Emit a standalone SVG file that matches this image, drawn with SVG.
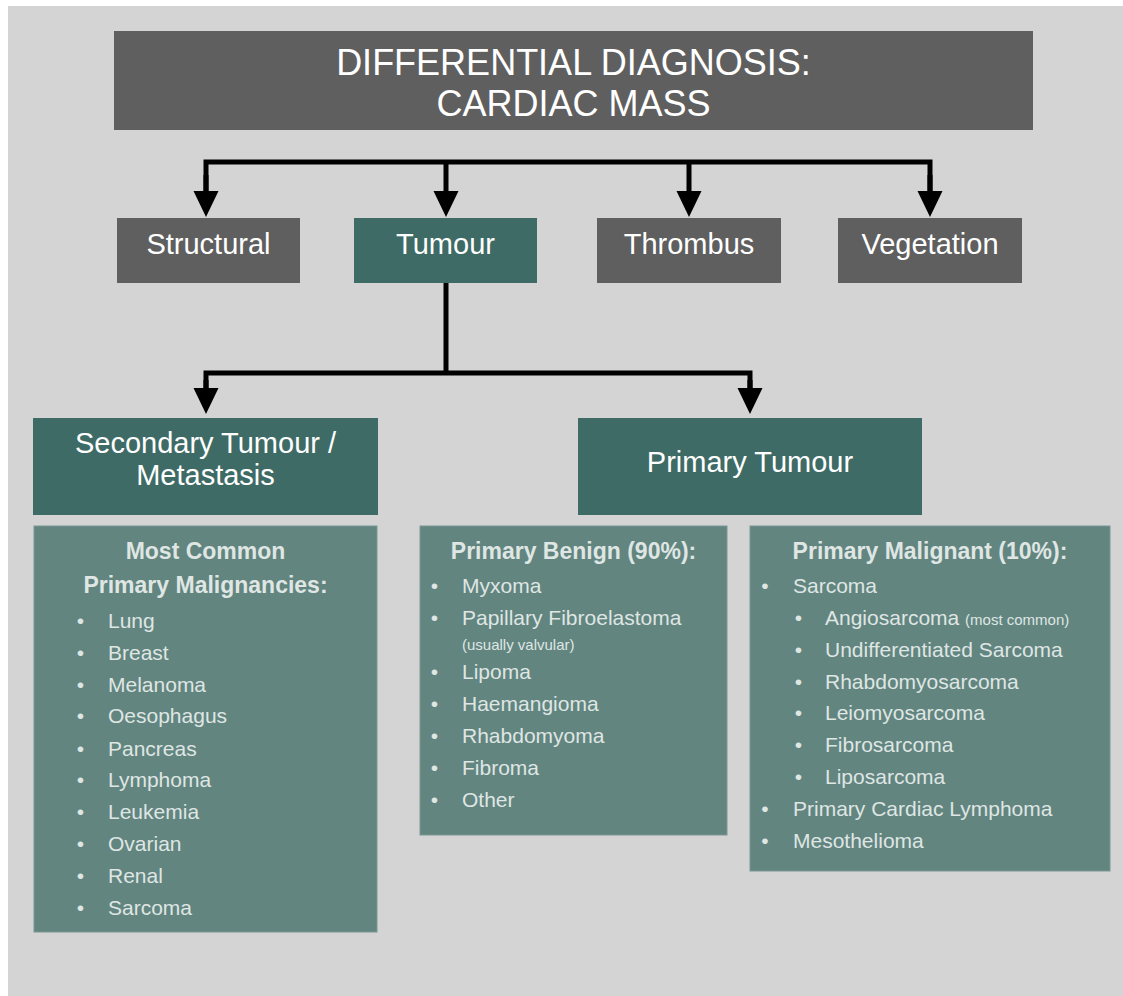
<svg xmlns="http://www.w3.org/2000/svg" width="1123" height="996" viewBox="0 0 1123 996">
<defs>
<style>
.dk{fill:#5f5f5f}
.tl{fill:#3e6b65}
.ls{fill:#62857f;stroke:#7a9893;stroke-width:1}
text{font-family:"Liberation Sans",Arial,Helvetica,sans-serif}
.ttl{fill:#ffffff;font-size:36px;text-anchor:middle}
.lbl{fill:#ffffff;font-size:29px;text-anchor:middle}
.hd{fill:#dfe6e4;font-size:23px;font-weight:bold;text-anchor:middle}
.it{fill:#dfe6e4;font-size:21px}
.sm{fill:#dfe6e4;font-size:15px}
.bl{fill:#dfe6e4;font-size:21px;text-anchor:middle}
.cn{fill:none;stroke:#000;stroke-width:5;stroke-linejoin:miter}
</style>
<marker id="ah" markerUnits="userSpaceOnUse" markerWidth="26" markerHeight="26" viewBox="0 0 26 26" refX="0" refY="12.5" orient="auto">
<path d="M0,0 L26,12.5 L0,25 Z" fill="#000"/>
</marker>
</defs>
<rect x="0" y="0" width="1123" height="996" fill="#ffffff"/>
<rect x="8" y="6" width="1115" height="990" fill="#d4d4d4"/>

<g id="connectors">
<path class="cn" d="M206,191 V162 H930 V191"/>
<path class="cn" d="M206,175 V191" marker-end="url(#ah)"/>
<path class="cn" d="M446,162 V191" marker-end="url(#ah)"/>
<path class="cn" d="M689,162 V191" marker-end="url(#ah)"/>
<path class="cn" d="M930,175 V191" marker-end="url(#ah)"/>
<path class="cn" d="M446,283 V373"/>
<path class="cn" d="M206,388 V373 H750 V388"/>
<path class="cn" d="M206,380 V388" marker-end="url(#ah)"/>
<path class="cn" d="M750,380 V388" marker-end="url(#ah)"/>
</g>

<g id="title">
<rect class="dk" x="114" y="31" width="919" height="99"/>
<text class="ttl" x="573.5" y="75">DIFFERENTIAL DIAGNOSIS:</text>
<text class="ttl" x="573.5" y="116">CARDIAC MASS</text>
</g>

<g id="structural">
<rect class="dk" x="117" y="218" width="183" height="65"/>
<text class="lbl" x="208.5" y="254">Structural</text>
</g>
<g id="tumour">
<rect class="tl" x="354" y="218" width="183" height="65"/>
<text class="lbl" x="445.5" y="254">Tumour</text>
</g>
<g id="thrombus">
<rect class="dk" x="597" y="218" width="184" height="65"/>
<text class="lbl" x="689" y="254">Thrombus</text>
</g>
<g id="vegetation">
<rect class="dk" x="838" y="218" width="184" height="65"/>
<text class="lbl" x="930" y="254">Vegetation</text>
</g>

<g id="secondary">
<rect class="tl" x="33" y="418" width="345" height="97"/>
<text class="lbl" x="205.5" y="453">Secondary Tumour /</text>
<text class="lbl" x="205.5" y="485">Metastasis</text>
</g>
<g id="primary">
<rect class="tl" x="578" y="418" width="344" height="97"/>
<text class="lbl" x="750" y="472">Primary Tumour</text>
</g>

<g id="secondary-list">
<rect class="ls" x="34" y="526" width="343" height="406"/>
<text class="hd" x="205.5" y="559">Most Common</text>
<text class="hd" x="205.5" y="593">Primary Malignancies:</text>
<text class="bl" x="80.5" y="628">•</text><text class="it" x="108" y="628">Lung</text>
<text class="bl" x="80.5" y="660">•</text><text class="it" x="108" y="660">Breast</text>
<text class="bl" x="80.5" y="692">•</text><text class="it" x="108" y="692">Melanoma</text>
<text class="bl" x="80.5" y="723">•</text><text class="it" x="108" y="723">Oesophagus</text>
<text class="bl" x="80.5" y="756">•</text><text class="it" x="108" y="756">Pancreas</text>
<text class="bl" x="80.5" y="787">•</text><text class="it" x="108" y="787">Lymphoma</text>
<text class="bl" x="80.5" y="819">•</text><text class="it" x="108" y="819">Leukemia</text>
<text class="bl" x="80.5" y="851">•</text><text class="it" x="108" y="851">Ovarian</text>
<text class="bl" x="80.5" y="883">•</text><text class="it" x="108" y="883">Renal</text>
<text class="bl" x="80.5" y="915">•</text><text class="it" x="108" y="915">Sarcoma</text>
</g>

<g id="benign-list">
<rect class="ls" x="420" y="526" width="307" height="309"/>
<text class="hd" x="573.5" y="559">Primary Benign (90%):</text>
<text class="bl" x="434.5" y="593">•</text><text class="it" x="462" y="593">Myxoma</text>
<text class="bl" x="434.5" y="625">•</text><text class="it" x="462" y="625">Papillary Fibroelastoma</text>
<text class="sm" x="462" y="650">(usually valvular)</text>
<text class="bl" x="434.5" y="679">•</text><text class="it" x="462" y="679">Lipoma</text>
<text class="bl" x="434.5" y="711">•</text><text class="it" x="462" y="711">Haemangioma</text>
<text class="bl" x="434.5" y="743">•</text><text class="it" x="462" y="743">Rhabdomyoma</text>
<text class="bl" x="434.5" y="775">•</text><text class="it" x="462" y="775">Fibroma</text>
<text class="bl" x="434.5" y="807">•</text><text class="it" x="462" y="807">Other</text>
</g>

<g id="malignant-list">
<rect class="ls" x="750" y="526" width="360" height="345"/>
<text class="hd" x="930" y="559">Primary Malignant (10%):</text>
<text class="bl" x="765" y="593">•</text><text class="it" x="793" y="593">Sarcoma</text>
<text class="bl" x="798.5" y="625">•</text><text class="it" x="825" y="625">Angiosarcoma <tspan class="sm" font-size="15">(most common)</tspan></text>
<text class="bl" x="798.5" y="657">•</text><text class="it" x="825" y="657">Undifferentiated Sarcoma</text>
<text class="bl" x="798.5" y="689">•</text><text class="it" x="825" y="689">Rhabdomyosarcoma</text>
<text class="bl" x="798.5" y="720">•</text><text class="it" x="825" y="720">Leiomyosarcoma</text>
<text class="bl" x="798.5" y="752">•</text><text class="it" x="825" y="752">Fibrosarcoma</text>
<text class="bl" x="798.5" y="784">•</text><text class="it" x="825" y="784">Liposarcoma</text>
<text class="bl" x="765" y="816">•</text><text class="it" x="793" y="816">Primary Cardiac Lymphoma</text>
<text class="bl" x="765" y="848">•</text><text class="it" x="793" y="848">Mesothelioma</text>
</g>
</svg>
